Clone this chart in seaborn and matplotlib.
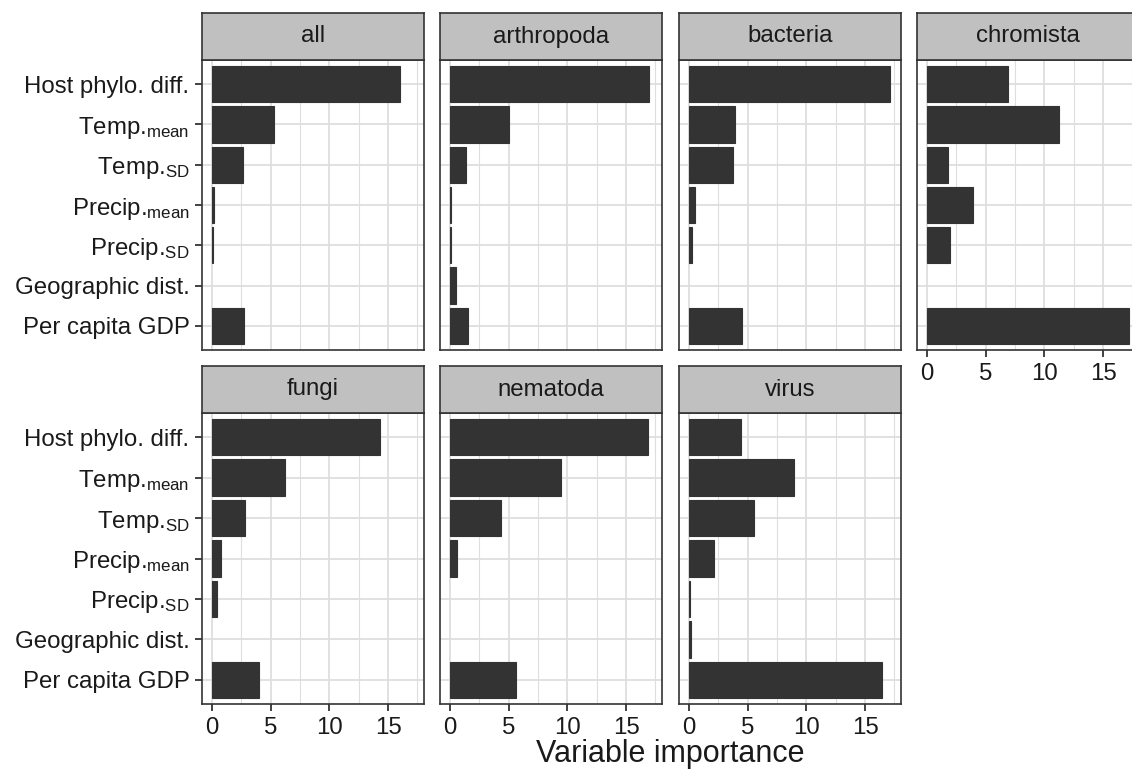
import matplotlib.pyplot as plt
import pandas as pd
import seaborn as sns


variables = [
    "Host phylo. diff.",
    r"Temp.$_{\mathregular{mean}}$",
    r"Temp.$_{\mathregular{SD}}$",
    r"Precip.$_{\mathregular{mean}}$",
    r"Precip.$_{\mathregular{SD}}$",
    "Geographic dist.",
    "Per capita GDP",
]
groups = ["all", "arthropoda", "bacteria", "chromista", "fungi", "nematoda", "virus"]

imp_all = [16.0, 5.3, 2.6, 0.14, 0.11, 0.0, 2.7]
imp_arthropoda = [16.95, 5.04, 1.36, 0.08, 0.08, 0.48, 1.5]
imp_bacteria = [17.1, 3.9, 3.76, 0.54, 0.28, 0.0, 4.47]
imp_chromista = [6.86, 11.2, 1.75, 3.87, 1.92, 0.0, 17.2]
imp_fungi = [14.3, 6.23, 2.8, 0.74, 0.40, 0.0, 3.99]
imp_nematoda = [16.86, 9.42, 4.36, 0.62, 0.0, 0.0, 5.6]
imp_virus = [4.41, 8.94, 5.54, 2.09, 0.08, 0.17, 16.4]

values = [imp_all, imp_arthropoda, imp_bacteria, imp_chromista,
          imp_fungi, imp_nematoda, imp_virus]
df = pd.DataFrame({
    "group": [g for g in groups for _ in variables],
    "variable": variables * len(groups),
    "importance": [v for vals in values for v in vals],
})

sns.set_theme(style="whitegrid")
plt.rcParams["font.family"] = ["Liberation Sans", "DejaVu Sans"]
plt.rcParams["mathtext.default"] = "regular"

W, H = 1132, 775
fig = plt.figure(figsize=(W / 100, H / 100), dpi=100)
fig.patch.set_facecolor("white")

col_left = [202, 440, 679, 917]
panel_w = 222
rows = [(60, 350), (413, 704)]
strip_h = 47
dark = "#333333"
grid_c = "#DEDEDE"
txt_c = "#1A1A1A"
fs = 17.3

xmax = df["importance"].max()
xlim = (-0.05 * xmax, 1.05 * xmax)

for i, g in enumerate(groups):
    r, c = divmod(i, 4)
    top, bot = rows[r]
    ax = fig.add_axes([col_left[c] / W, 1 - bot / H, panel_w / W, (bot - top) / H])
    sns.barplot(data=df[df["group"] == g], x="importance", y="variable",
                order=variables, color=dark, width=0.9, saturation=1,
                edgecolor=dark, linewidth=0.8, ax=ax)
    # zero-importance bars should leave no trace
    for p in ax.patches:
        if p.get_width() == 0:
            p.set_linewidth(0)
    ax.set_facecolor("white")
    ax.set_axisbelow(True)
    ax.set_xlim(*xlim)
    ax.set_ylim(len(variables) - 0.4, -0.6)
    ax.set_xticks([0, 5, 10, 15])
    ax.set_xticks([2.5, 7.5, 12.5, 17.5], minor=True)
    ax.grid(True, which="major", axis="both", color=grid_c, lw=1.3)
    ax.grid(True, which="minor", axis="x", color=grid_c, lw=0.8)
    ax.set_xlabel("")
    ax.set_ylabel("")
    for sp in ax.spines.values():
        sp.set_visible(True)
        sp.set_color(dark)
        sp.set_linewidth(1.2)

    show_x = r == 1 or i == 3
    show_y = c == 0
    ax.tick_params(axis="x", which="major", bottom=show_x, labelbottom=show_x,
                   length=5, width=1.3, color=dark, labelsize=fs,
                   labelcolor=txt_c, pad=4)
    ax.tick_params(axis="x", which="minor", bottom=False)
    ax.tick_params(axis="y", left=show_y, labelleft=show_y, length=5,
                   width=1.3, color=dark, labelsize=fs, labelcolor=txt_c, pad=4)

    strip = fig.add_axes([col_left[c] / W, 1 - top / H, panel_w / W, strip_h / H])
    strip.set_facecolor("#C0C0C0")
    strip.set_xticks([])
    strip.set_yticks([])
    strip.grid(False)
    for sp in strip.spines.values():
        sp.set_visible(True)
        sp.set_color(dark)
        sp.set_linewidth(1.2)
    strip.text(0.5, 0.5, g, ha="center", va="center", fontsize=fs,
               color=txt_c, transform=strip.transAxes)

fig.text(670 / W, 1 - 762 / H, "Variable importance", ha="center",
         va="baseline", fontsize=22, color=txt_c)

fig.savefig("out.png", dpi=100)
